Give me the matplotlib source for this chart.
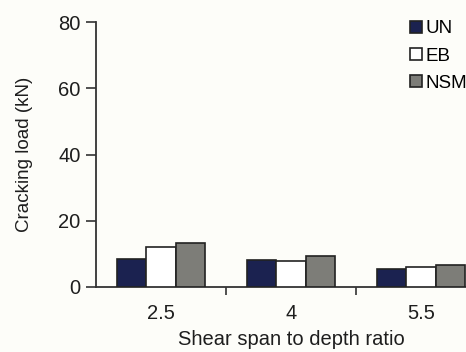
import matplotlib
matplotlib.use("Agg")
import matplotlib.pyplot as plt
import numpy as np

plt.rcParams['font.family'] = ['Liberation Sans', 'DejaVu Sans']

categories = ["2.5", "4", "5.5"]
series_names = ["UN", "EB", "NSM"]
un_values = [8.6, 8.1, 5.3]
eb_values = [12.2, 7.8, 6.1]
nsm_values = [13.2, 9.3, 6.6]
y_ticks = [0, 20, 40, 60, 80]

colors = ["#1b2250", "#ffffff", "#7d7d78"]
bg = "#fdfdf9"
txt = "#1e1e1e"

fig = plt.figure(figsize=(4.66, 3.52), dpi=100, facecolor=bg)
# axes span wider than the figure, so the last group runs off the right edge
ax = fig.add_axes([96 / 466, 1 - 287 / 352, 390 / 466, 265 / 352], facecolor=bg)

x = np.arange(len(categories))
w = 0.224
for i, (name, vals) in enumerate(zip(series_names, [un_values, eb_values, nsm_values])):
    ax.bar(x + (i - 1) * w, vals, width=w, color=colors[i], edgecolor="#222222",
           linewidth=1.2, label=name, zorder=3)

ax.set_xlim(-0.5, 2.5)
ax.set_ylim(0, 80)
ax.set_yticks(y_ticks)
ax.tick_params(axis='y', labelsize=14.5, length=7, width=1.2, color="#333333",
               labelcolor=txt, pad=4)

# category labels at the centres, tick marks at the boundaries
ax.set_xticks(x)
ax.set_xticklabels(categories)
ax.tick_params(axis='x', which='major', length=0, labelsize=14.5,
               labelcolor=txt, pad=12)
ax.set_xticks([0.5, 1.5], minor=True)
ax.tick_params(axis='x', which='minor', length=6, width=1.2, color="#333333")

for s in ["top", "right"]:
    ax.spines[s].set_visible(False)
for s in ["left", "bottom"]:
    ax.spines[s].set_linewidth(1.3)
    ax.spines[s].set_color("#333333")

ax.set_ylabel("Cracking load (kN)", fontsize=13.5, color=txt, labelpad=18)
ax.set_xlabel("Shear span to depth ratio", fontsize=14.5, color=txt, labelpad=5)

leg = fig.legend(loc="upper left", bbox_to_anchor=(401 / 466, 1 - 11 / 352),
                 frameon=False, fontsize=13.5, handlelength=0.6, handleheight=0.6,
                 handletextpad=0.2, labelspacing=0.55, borderpad=0)

fig.savefig("out.png", dpi=100, facecolor=bg)
